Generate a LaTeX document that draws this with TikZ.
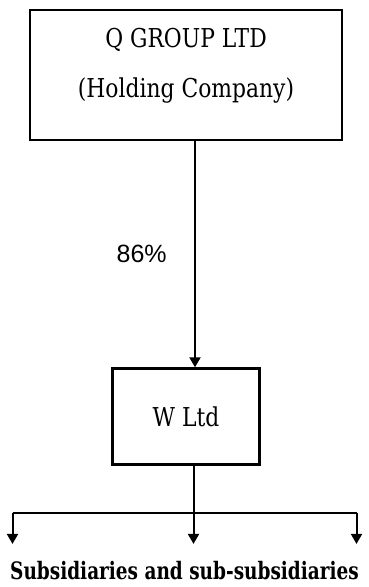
\documentclass[tikz,border=0pt]{standalone}
\usepackage{fontspec}
\setmainfont{DejaVu Serif}[FakeStretch=0.84]
\newfontfamily\subsfont{DejaVu Serif Bold}[FakeStretch=0.77]
\newfontfamily\pctfont{Liberation Sans}
\usepackage{tikz}
\usetikzlibrary{positioning, arrows.meta}

\begin{document}
\begin{tikzpicture}[x=1pt, y=-1pt, >={Triangle[length=10pt, width=11pt]},
    box/.style={draw, line width=2.6pt, font=\fontsize{26}{31}\selectfont, align=center},
    conn/.style={line width=2pt}]
                \useasboundingbox (0,0) rectangle (368,587);
                \node[box, minimum width=312pt, minimum height=130pt, text depth=25pt] (qgroup) at (186,75) {Q GROUP LTD\\[19pt](Holding Company)};
                \node[box, minimum width=147pt, minimum height=96pt] (wltd) [below=226pt of qgroup] {W Ltd};
                \coordinate (fork) at ([xshift=7.5pt, yshift=-47pt]wltd.south);
                \coordinate (leftend) at ([xshift=-181pt]fork);
                \coordinate (rightend) at ([xshift=163pt]fork);
                \node[font=\subsfont\fontsize{24}{29}\selectfont, inner sep=0pt, anchor=base] (subs) at ([xshift=-9pt, yshift=-67pt]fork) {Subsidiaries and sub-subsidiaries};

                \draw[conn, ->] ([xshift=9pt]qgroup.south) -- node[left=24pt, font=\pctfont\fontsize{25}{30}\selectfont] (pct) {86\%} ([xshift=9pt]wltd.north);
                \draw[conn] ([xshift=7.5pt]wltd.south) -- (fork);
                \draw[conn] (leftend) -- (rightend);
                \foreach \e in {leftend, fork, rightend}
                    \draw[conn, ->] (\e) -- ([yshift=-31pt]\e);
            \end{tikzpicture}
\end{document}
